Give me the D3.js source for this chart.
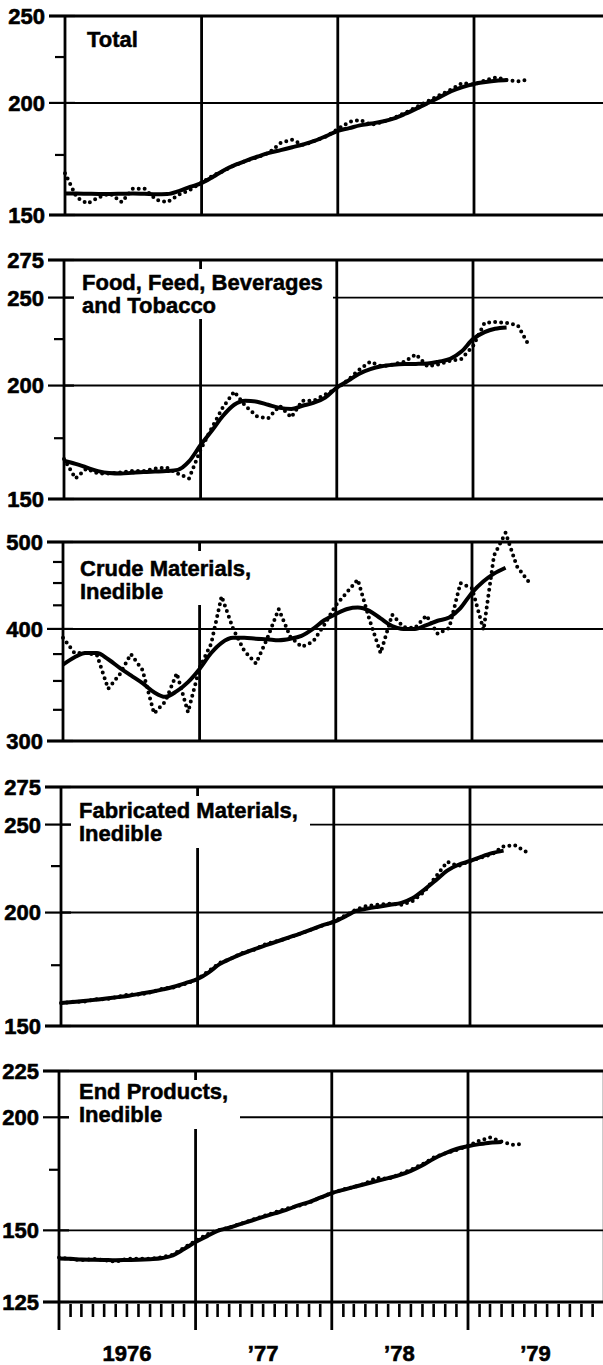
<!DOCTYPE html>
<html>
<head>
<meta charset="utf-8">
<script src="https://cdn.jsdelivr.net/npm/d3@7"></script>
<style>
  body { margin: 0; background: #fff; }
  svg { display: block; font-family: "Liberation Sans", Arial, sans-serif; font-weight: bold; }
</style>
</head>
<body>
<svg id="chart" width="603" height="1365"></svg>
<script>
// monthly values, index 0 = Jan 1976
const yearLabels = ['1976', '\u201977', '\u201978', '\u201979'];

const totalDots = [167, 157, 154.5, 157, 158.5, 155, 160.5, 160.5, 156, 155, 158, 160, 163, 166, 168, 170.5, 172.5, 174, 176, 180.5,
  182, 179.5, 181.5, 183.5, 187, 190.5, 191.5, 189, 190.5, 192.5, 195, 198, 201, 204, 207, 210.5, 209.5, 212, 213.5, 212, 211.5, 212.5];
const totalTrend = [158.5, 158.5, 158.4, 158.3, 158.3, 158.4, 158.5, 158.4, 158.2, 158.3, 159.5, 161.2, 162.8, 165.5, 168.2, 170.6, 172.5, 174.3, 175.9, 177.2,
  178.5, 179.8, 181.5, 183.7, 186.2, 187.5, 188.8, 189.7, 190.7, 192.2, 194.5, 197.2, 200.1, 203, 206.1, 208.3, 210, 211, 211.7, 212.1];

const foodDots = [166, 158, 162, 160, 160, 160.5, 161, 161, 162, 162.5, 160, 158, 170, 180, 189, 197, 190, 185, 184, 190,
  184.5, 192.5, 192.5, 195.5, 198.5, 203, 208, 212.5, 210, 211, 212.5, 216.5, 210, 211, 213, 214, 221, 234.5, 235, 234.5, 233, 221];
const foodTrend = [165.3, 164, 162.5, 161, 160.2, 160, 160.3, 160.6, 160.8, 161, 161.5, 165, 172, 178.5, 185, 190.5, 192.5, 192, 190.5, 189,
  188.5, 190, 191.5, 194, 199, 202.5, 206, 208.5, 210, 210.8, 211.2, 211.3, 211.5, 212.5, 214, 218, 225, 229, 231, 231.8];

const crudeDots = [391, 376, 376, 374, 343, 356, 375, 360, 322, 332, 357, 323, 362, 385, 435, 400, 378, 366, 390, 421,
  392, 382, 387, 404, 425, 440, 454, 410, 376, 415, 402, 401, 414, 395, 401, 450, 444, 399, 483, 512, 470, 452];
const crudeTrend = [365, 372, 376, 376, 370, 362, 355, 348, 340, 336, 341, 349, 361, 376, 386, 391, 391, 390, 389.5, 388.5,
  390, 393, 400, 409, 415.5, 421, 422.5, 419, 411, 403, 400, 400, 404, 408.5, 412, 422, 439, 452, 461, 468];

const fabDots = [159, 159.5, 159.5, 160.5, 160.5, 161.5, 162.5, 162.5, 163.5, 165, 165.5, 167, 169, 172.5, 176, 178, 180.5, 182, 184.5, 186,
  187.5, 189.5, 191.5, 193.5, 195.5, 198.5, 201.5, 203.5, 204, 204.5, 204, 206, 211, 219, 227.5, 225, 228, 230, 232, 236.5, 237.3, 233.3];
const fabTrend = [159, 159.4, 159.8, 160.3, 160.8, 161.4, 162, 162.8, 163.6, 164.6, 165.8, 167.3, 169, 172, 175.5, 178, 180.2, 182.2, 184, 185.8,
  187.7, 189.5, 191.5, 193.6, 195.3, 198, 200.8, 202, 203, 204, 205, 207.5, 212, 217, 222.5, 225.8, 228, 230.5, 232.5, 234];

const endDots = [140, 139.5, 139, 139.5, 139, 138.5, 139.5, 139.5, 139.5, 140, 141, 143.5, 146, 148.5, 150, 151, 152.5, 154, 155.5, 157,
  158.5, 159.5, 161, 163, 165, 166.5, 167.5, 169, 171.5, 171, 173, 175, 177.5, 180.5, 182.5, 184, 186, 188.5, 190, 188, 186.5, 187];
const endTrend = [139.6, 139.5, 139.3, 139.2, 139.1, 139, 139.1, 139.2, 139.4, 139.7, 140.7, 143, 145.6, 147.8, 149.8, 151, 152.4, 153.8, 155.2, 156.6,
  158, 159.7, 161.2, 163, 164.9, 166.3, 167.5, 168.8, 170, 171.3, 172.6, 174.5, 177, 180, 182.5, 184.5, 185.8, 186.8, 187.5, 187.8];

// tick values per panel
const totalLabels = [150, 200, 250], totalMinor = [175, 225], totalGrid = [200];
const foodLabels = [150, 200, 250, 275], foodMinor = [175, 225], foodGrid = [200, 250];
const crudeLabels = [300, 400, 500], crudeMinor = [325, 350, 375, 425, 450, 475], crudeGrid = [400];
const fabLabels = [150, 200, 250, 275], fabMinor = [175, 225], fabGrid = [200, 250];
const endLabels = [125, 150, 200, 225], endMinor = [175], endGrid = [150, 200];

const panels = [
  {title: ['Total'], dots: totalDots, trend: totalTrend, labels: totalLabels, minor: totalMinor, grid: totalGrid,
   top: 16, bottom: 215, left: 65, tx: 22, ty: 31, mask: null},
  {title: ['Food, Feed, Beverages', 'and Tobacco'], dots: foodDots, trend: foodTrend, labels: foodLabels, minor: foodMinor, grid: foodGrid,
   top: 260, bottom: 499, left: 64, tx: 18, ty: 30, mask: {right: 333, bottom: 59}},
  {title: ['Crude Materials,', 'Inedible'], dots: crudeDots, trend: crudeTrend, labels: crudeLabels, minor: crudeMinor, grid: crudeGrid,
   top: 542, bottom: 741, left: 63, tx: 17, ty: 34, mask: {right: 262, bottom: 63}},
  {title: ['Fabricated Materials,', 'Inedible'], dots: fabDots, trend: fabTrend, labels: fabLabels, minor: fabMinor, grid: fabGrid,
   top: 787, bottom: 1026, left: 61, tx: 18, ty: 31, mask: {right: 310, bottom: 61}},
  {title: ['End Products,', 'Inedible'], dots: endDots, trend: endTrend, labels: endLabels, minor: endMinor, grid: endGrid,
   top: 1071, bottom: 1302, left: 59, tx: 20, ty: 28, mask: {right: 240, bottom: 58}}
];

const svg = d3.select('#chart');
const yearWidth = 136.3;
const start = new Date(1976, 0, 1), end = new Date(1980, 0, 1);
const monthDate = i => new Date(1976, i, 1);

panels.forEach((p, pi) => {
  const x = d3.scaleTime().domain([start, end]).range([p.left, p.left + 4 * yearWidth]);
  const y = d3.scaleLog().domain(d3.extent(p.labels)).range([p.bottom, p.top]);
  const g = svg.append('g');
  const right = x(end);
  const isLast = pi === panels.length - 1;

  // interior horizontal grid lines
  g.selectAll('.hgrid').data(p.grid).enter().append('line')
    .attr('x1', p.left).attr('x2', right)
    .attr('y1', d => y(d)).attr('y2', d => y(d))
    .attr('stroke', '#000').attr('stroke-width', 1.9);

  // year lines
  const years = d3.timeYear.range(new Date(1977, 0, 1), end);
  g.selectAll('.vgrid').data(years).enter().append('line')
    .attr('x1', d => x(d)).attr('x2', d => x(d))
    .attr('y1', p.top).attr('y2', isLast ? p.bottom + 28 : p.bottom)
    .attr('stroke', '#000').attr('stroke-width', 2.8);

  // white box behind the title
  if (p.mask) {
    g.append('rect')
      .attr('x', p.left + 10).attr('y', p.top + 9)
      .attr('width', p.mask.right - p.left - 10).attr('height', p.mask.bottom - 9)
      .attr('fill', '#fff');
  }

  g.selectAll('.title').data(p.title).enter().append('text')
    .attr('x', p.left + p.tx).attr('y', (d, i) => p.top + p.ty + i * 23)
    .attr('font-size', 22).attr('stroke', '#000').attr('stroke-width', 0.5)
    .text(d => d);

  // frame
  g.append('line').attr('x1', p.left - 16).attr('x2', right).attr('y1', p.top).attr('y2', p.top)
    .attr('stroke', '#000').attr('stroke-width', 2.8);
  g.append('line').attr('x1', p.left - 16).attr('x2', right).attr('y1', p.bottom).attr('y2', p.bottom)
    .attr('stroke', '#000').attr('stroke-width', 2.8);
  g.append('line').attr('x1', p.left).attr('x2', p.left)
    .attr('y1', p.top).attr('y2', isLast ? p.bottom + 28 : p.bottom)
    .attr('stroke', '#000').attr('stroke-width', 2.8);
  g.append('line').attr('x1', right).attr('x2', right).attr('y1', p.top).attr('y2', p.bottom)
    .attr('stroke', '#000').attr('stroke-width', 2.8);

  // left ticks
  g.selectAll('.major').data(p.labels).enter().append('line')
    .attr('x1', p.left - 16).attr('x2', p.left + 10)
    .attr('y1', d => y(d)).attr('y2', d => y(d))
    .attr('stroke', '#000').attr('stroke-width', 2.2);
  g.selectAll('.minor').data(p.minor).enter().append('line')
    .attr('x1', p.left - 10).attr('x2', p.left)
    .attr('y1', d => y(d)).attr('y2', d => y(d))
    .attr('stroke', '#000').attr('stroke-width', 2.2);
  g.selectAll('.tlabel').data(p.labels).enter().append('text')
    .attr('x', p.left - 20).attr('y', d => y(d)).attr('dy', '0.36em')
    .attr('text-anchor', 'end').attr('font-size', 22)
    .attr('stroke', '#000').attr('stroke-width', 0.6)
    .text(d => d);

  // series
  const line = d3.line().x((d, i) => x(monthDate(i))).y(d => y(d));
  g.append('path').datum(p.dots)
    .attr('fill', 'none').attr('stroke', '#000').attr('stroke-width', 4)
    .attr('stroke-linecap', 'round').attr('stroke-dasharray', '0 6')
    .attr('d', line);
  g.append('path').datum(p.trend)
    .attr('fill', 'none').attr('stroke', '#000').attr('stroke-width', 4)
    .attr('stroke-linejoin', 'round')
    .attr('d', line.curve(d3.curveMonotoneX));

  // bottom month axis
  if (isLast) {
    const months = d3.timeMonth.range(start, end).filter(d => d.getMonth() !== 0);
    g.selectAll('.mtick').data(months).enter().append('line')
      .attr('x1', d => x(d)).attr('x2', d => x(d))
      .attr('y1', p.bottom + 2).attr('y2', p.bottom + 15)
      .attr('stroke', '#000').attr('stroke-width', 2.6);
    g.selectAll('.year').data(yearLabels).enter().append('text')
      .attr('x', (d, i) => x(new Date(1976 + i, 6, 1)))
      .attr('y', p.bottom + 59)
      .attr('text-anchor', 'middle').attr('font-size', 22)
      .attr('stroke', '#000').attr('stroke-width', 0.6)
      .text(d => d);
  }
});
</script>
</body>
</html>
